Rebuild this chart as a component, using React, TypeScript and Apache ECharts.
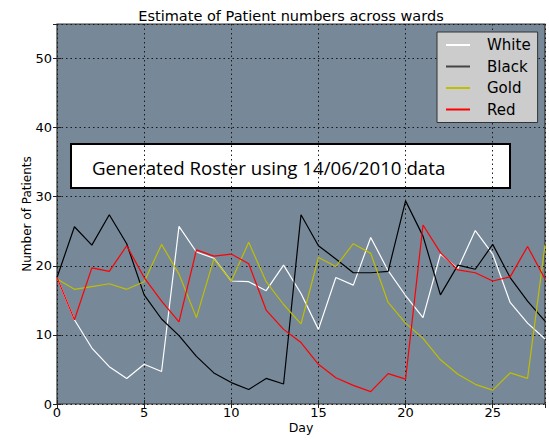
import React, { useEffect, useRef } from "react";
import * as echarts from "echarts";

const days = Array.from({ length: 29 }, (_, i) => i);
const seriesNames = ["White", "Black", "Gold", "Red"];
const seriesColors = ["#ffffff", "#000000", "#bfbf00", "#ff0000"];
const white = [18.3, 12.2, 8.1, 5.4, 3.7, 5.75, 4.7, 25.7, 22.0, 21.1, 17.8, 17.7, 16.4, 20.1, 16.0, 10.8, 18.3, 17.2, 24.1, 19.3, 15.7, 12.5, 21.7, 19.6, 25.1, 21.7, 14.7, 11.7, 9.4];
const black = [18.3, 25.65, 23.0, 27.4, 23.2, 15.8, 12.3, 9.9, 6.9, 4.5, 3.1, 2.1, 3.7, 2.9, 27.4, 22.9, 21.0, 19.0, 19.0, 19.2, 29.4, 24.3, 15.8, 20.1, 19.5, 23.1, 18.3, 14.9, 12.0];
const gold = [18.1, 16.6, 17.0, 17.4, 16.6, 17.7, 23.1, 18.8, 12.5, 21.0, 17.8, 23.4, 17.7, 14.4, 11.6, 21.2, 19.9, 23.2, 21.8, 14.7, 11.7, 9.5, 6.4, 4.3, 2.85, 2.0, 4.5, 3.7, 23.0];
const red = [18.3, 12.2, 19.7, 19.2, 22.9, 18.3, 14.9, 11.9, 22.3, 21.4, 21.7, 20.3, 13.6, 10.8, 8.9, 5.75, 3.8, 2.7, 1.8, 4.4, 3.6, 25.9, 21.9, 19.4, 19.0, 17.8, 18.4, 22.8, 18.1];
const seriesValues = [white, black, gold, red];
const titleText = "Estimate of Patient numbers across wards";
const boxText = "Generated Roster using 14/06/2010 data";

export default function App() {
  const ref = useRef<HTMLDivElement>(null);
  useEffect(() => {
    const chart = echarts.init(ref.current!, null, { renderer: "svg" });
    const font = "DejaVu Sans";
    const split = { show: true, lineStyle: { color: "#1a1a1a", type: [1.5, 3], width: 1 } };
    const tick = { show: true, inside: true, length: 4, lineStyle: { color: "#222" } };
    chart.setOption({
      animation: false,
      backgroundColor: "#ffffff",
      title: {
        text: titleText,
        left: 286,
        top: 3,
        textAlign: "center",
        textStyle: { fontFamily: font, fontSize: 14.5, fontWeight: "normal", color: "#000" },
      },
      grid: {
        left: 57, top: 24, right: 4, bottom: 36,
        show: true, backgroundColor: "#778899", borderColor: "#333", borderWidth: 1.2,
      },
      legend: {
        orient: "vertical",
        left: 437,
        top: 32,
        padding: [5.5, 7, 5.5, 9],
        itemGap: 6.5,
        itemWidth: 24,
        itemHeight: 2,
        icon: "rect",
        backgroundColor: "#cccccc",
        borderColor: "#333",
        borderWidth: 1,
        data: seriesNames.map((n, i) => ({ name: n, itemStyle: { color: i === 1 ? "#444" : seriesColors[i] } })),
        textStyle: { fontFamily: font, fontSize: 15, color: "#000", lineHeight: 15, padding: [0, 0, 0, 12] },
      },
      xAxis: [
        {
          type: "value", min: 0, max: 28, interval: 5,
          name: "Day", nameLocation: "middle", nameGap: 17, nameMoveOverlap: false,
          nameTextStyle: { fontFamily: font, fontSize: 12.5, color: "#000" },
          axisLine: { show: false },
          axisTick: tick,
          axisLabel: { fontFamily: font, fontSize: 13, color: "#000", margin: 2, showMaxLabel: false },
          splitLine: split,
        },
        {
          type: "value", min: 0, max: 28, interval: 5, position: "top",
          axisLine: { show: false },
          axisTick: tick,
          axisLabel: { show: false },
          splitLine: { show: false },
        },
      ],
      yAxis: [
        {
          type: "value", min: 0, max: 55, interval: 10,
          name: "Number of Patients", nameLocation: "middle", nameGap: 24, nameMoveOverlap: false,
          nameTextStyle: { fontFamily: font, fontSize: 12, color: "#000" },
          axisLine: { show: false },
          axisTick: tick,
          axisLabel: { fontFamily: font, fontSize: 13, color: "#000", margin: 5, showMaxLabel: false },
          splitLine: split,
        },
        {
          type: "value", min: 0, max: 55, interval: 10, position: "right",
          axisLine: { show: false },
          axisTick: tick,
          axisLabel: { show: false },
          splitLine: { show: false },
        },
      ],
      series: seriesNames.map((n, i) => ({
        name: n,
        type: "line",
        symbol: "none",
        data: days.map((d, j) => [d, seriesValues[i][j]]),
        lineStyle: { color: seriesColors[i], width: 1.2 },
        itemStyle: { color: seriesColors[i] },
        z: 3,
      })),
      graphic: [
        {
          type: "group",
          left: 70,
          top: 143,
          z: 100,
          children: [
            { type: "rect", shape: { x: 0, y: 0, width: 439, height: 44 }, style: { fill: "#fff", stroke: "#000", lineWidth: 2 } },
            {
              type: "text", x: 21, y: 23,
              style: { text: boxText, fontFamily: "Open Sans", fontSize: 18.7, fill: "#000", verticalAlign: "middle" },
            },
          ],
        },
      ],
    });
    return () => chart.dispose();
  }, []);
  return <div ref={ref} style={{ width: 549, height: 440, position: "absolute", left: 0, top: 0 }} />;
}
